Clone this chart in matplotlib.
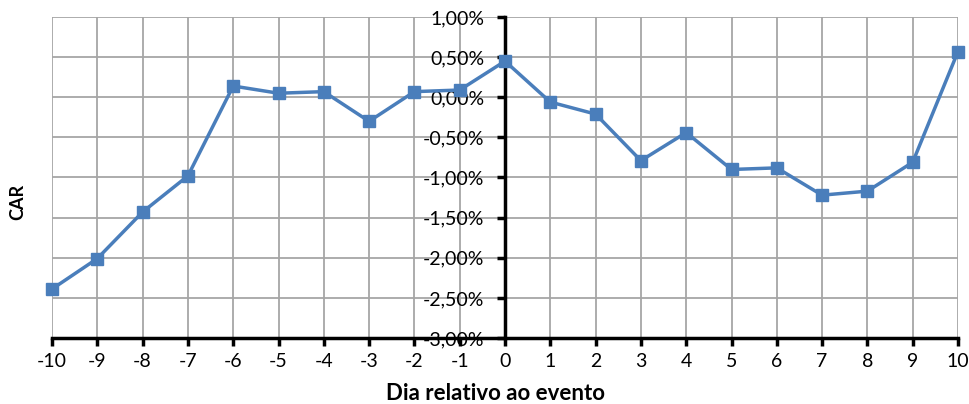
import matplotlib
matplotlib.use("Agg")
import matplotlib.pyplot as plt
from matplotlib.ticker import FuncFormatter, MultipleLocator

plt.rcParams['font.family'] = ['Lato', 'DejaVu Sans']
plt.rcParams['axes.unicode_minus'] = False

days = list(range(-10, 11))
car_pct = [-2.39, -2.01, -1.43, -0.98, 0.14, 0.05, 0.07, -0.30, 0.07, 0.09,
           0.45, -0.06, -0.21, -0.79, -0.44, -0.90, -0.88, -1.22, -1.17, -0.81, 0.57]

fig = plt.figure(figsize=(9.69, 4.04), dpi=100)
ax = fig.add_axes([52 / 969, 1 - 338 / 404, (958 - 52) / 969, (338 - 17) / 404])

ax.plot(days, car_pct, color='#4a7ebb', linewidth=2.5, marker='s',
        markersize=9, markeredgecolor='#4a7ebb', markerfacecolor='#4a7ebb',
        zorder=5, clip_on=False)

ax.set_xlim(-10, 10)
ax.set_ylim(-3.0, 1.0)
ax.xaxis.set_major_locator(MultipleLocator(1))
ax.yaxis.set_major_locator(MultipleLocator(0.5))
ax.yaxis.set_major_formatter(FuncFormatter(lambda v, p: f"{v:.2f}%".replace('.', ',')))

ax.grid(True, color='#a6a6a6', linewidth=1.3)
ax.set_axisbelow(True)

for s in ('top', 'right'):
    ax.spines[s].set_visible(False)
ax.spines['left'].set_position(('data', 0))
ax.spines['left'].set_linewidth(2.5)
ax.spines['left'].set_zorder(4)
ax.spines['bottom'].set_linewidth(2.5)

ax.tick_params(axis='both', direction='out', length=6, width=2.5, color='black',
               labelsize=14, labelcolor='black')
ax.tick_params(axis='x', pad=5)
ax.tick_params(axis='y', pad=9)

fig.text(495 / 969, 1 - 393 / 404, 'Dia relativo ao evento', fontsize=16,
         fontweight='bold', ha='center', va='center')
fig.text(18 / 969, 1 - 202 / 404, 'CAR', rotation=90, fontsize=13,
         fontweight='bold', ha='center', va='center')

fig.savefig('out.png', dpi=100)
